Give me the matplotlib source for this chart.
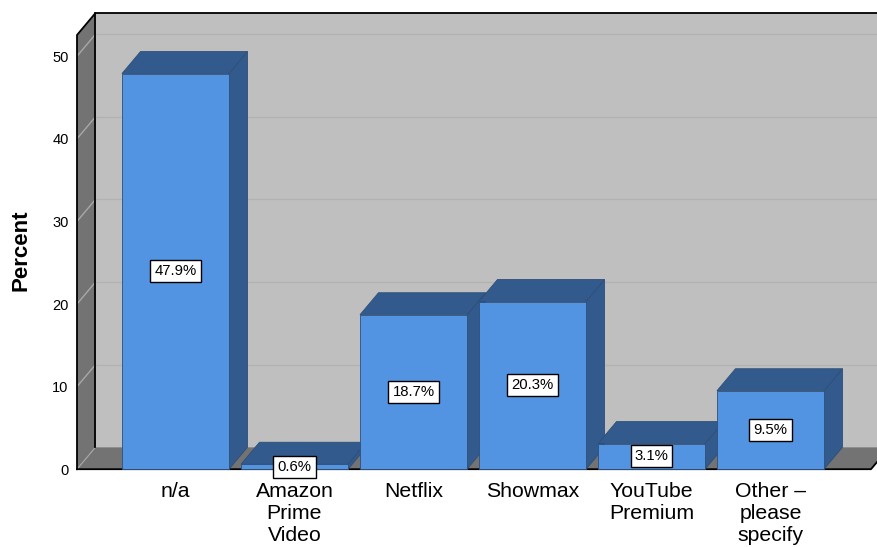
import matplotlib.pyplot as plt
from matplotlib.patches import Polygon

plt.rcParams['font.family'] = ['Liberation Sans', 'DejaVu Sans']

categories = ['n/a', 'Amazon\nPrime\nVideo', 'Netflix', 'Showmax', 'YouTube\nPremium', 'Other –\nplease\nspecify']
percent = [47.9, 0.6, 18.7, 20.3, 3.1, 9.5]
y_ticks = [0, 10, 20, 30, 40, 50]

W, H = 878, 547
# front plane of the 3d box, pixels
LEFT, RIGHT, BOTTOM, TOP = 77, 871, 469.2, 35
PX_PER_CAT = 119.0
PX_PER_PCT = 8.26
FIRST_CENTER = 175.5
BAR_W = 107 / PX_PER_CAT
# 3d depth in data units
DX = 18.5 / PX_PER_CAT
DY = 22 / PX_PER_PCT

WALL = '#bfbfbf'
SIDE = '#737373'
GRID = '#b2b2b2'
BAR = '#5294e2'
BAR_DARK = '#325a8c'
BAR_EDGE = '#2f4f78'

fig = plt.figure(figsize=(W / 100, H / 100), dpi=100)
ax = fig.add_axes([LEFT / W, 1 - BOTTOM / H, (RIGHT - LEFT) / W, (BOTTOM - TOP) / H])
x0 = (LEFT - FIRST_CENTER) / PX_PER_CAT
x1 = (RIGHT - FIRST_CENTER) / PX_PER_CAT
y1 = (BOTTOM - TOP) / PX_PER_PCT
ax.set_xlim(x0, x1)
ax.set_ylim(0, y1)
for s in ax.spines.values():
    s.set_visible(False)
ax.patch.set_visible(False)


def poly(pts, color, edge=None, lw=0, z=1):
    ax.add_patch(Polygon(pts, closed=True, facecolor=color, edgecolor=edge or color,
                         linewidth=lw, clip_on=False, zorder=z))


# walls and floor
poly([(x0 + DX, DY), (x1 + DX, DY), (x1 + DX, y1 + DY), (x0 + DX, y1 + DY)], WALL)
poly([(x0, 0), (x0 + DX, DY), (x0 + DX, y1 + DY), (x0, y1)], SIDE)
poly([(x0, 0), (x1, 0), (x1 + DX, DY), (x0 + DX, DY)], SIDE)

# gridlines on back wall and side wall
for t in y_ticks[1:]:
    ax.plot([x0 + DX, x1 + DX], [t + DY, t + DY], color=GRID, lw=1, clip_on=False, zorder=1.5)
    ax.plot([x0, x0 + DX], [t, t + DY], color='#a8a8a8', lw=1, clip_on=False, zorder=1.5)
ax.plot([x0, x0 + DX], [0, DY], color='#a8a8a8', lw=0.8, clip_on=False, zorder=1.5)

# box outline
ax.plot([x0, x0, x0 + DX, x1 + DX], [0, y1, y1 + DY, y1 + DY], color='black', lw=1.3, clip_on=False, zorder=2)
ax.plot([x0 + DX, x0 + DX], [DY, y1 + DY], color='black', lw=1.3, clip_on=False, zorder=2)
ax.plot([x0, x1, x1 + DX], [0, 0, DY], color='black', lw=1.3, clip_on=False, zorder=2)

# bars, drawn left to right so each front hides the previous side
for i, v in enumerate(percent):
    l, r = i - BAR_W / 2, i + BAR_W / 2
    z = 3 + i
    poly([(r, 0), (r + DX, DY), (r + DX, v + DY), (r, v)], BAR_DARK, BAR_EDGE, 0.6, z)
    poly([(l, v), (r, v), (r + DX, v + DY), (l + DX, v + DY)], BAR_DARK, BAR_EDGE, 0.6, z)
    ax.bar(i, v, width=BAR_W, color=BAR, edgecolor=BAR_EDGE, linewidth=0.6, zorder=z, clip_on=False)

# value boxes
for i, v in enumerate(percent):
    ax.text(i, v / 2, '{0:.1f}%'.format(v), ha='center', va='center', fontsize=10.7, zorder=20,
            clip_on=False, bbox=dict(boxstyle='square,pad=0.27', facecolor='white', edgecolor='black', linewidth=1))

ax.set_yticks(y_ticks)
ax.tick_params(axis='y', length=0, pad=6, labelsize=10.5)
ax.set_xticks(range(len(categories)))
ax.set_xticklabels(categories, fontsize=15.3, linespacing=1.2)
ax.tick_params(axis='x', length=0, pad=9)

fig.text(21 / W, 1 - 250 / H, 'Percent', rotation=90, ha='center', va='center', fontsize=16, fontweight='bold')

fig.savefig('out.png', dpi=100)
